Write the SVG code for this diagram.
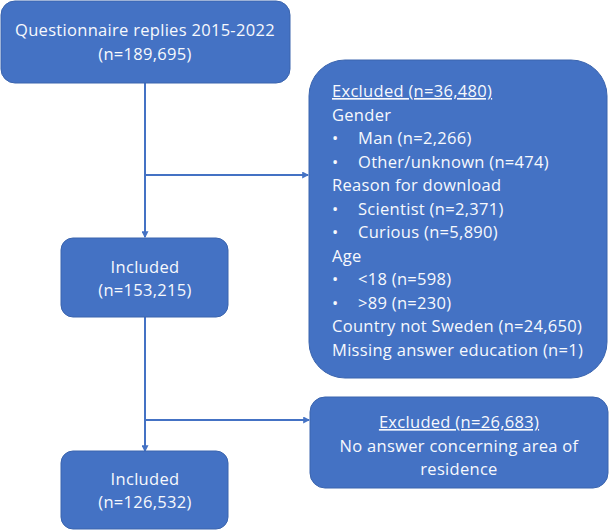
<svg xmlns="http://www.w3.org/2000/svg" width="610" height="531" viewBox="0 0 610 531">
<style>
.box{fill:#4472C4;stroke:#3A64AE;stroke-width:1}
.t{font-family:"Open Sans","Liberation Sans",sans-serif;font-size:16.5px;letter-spacing:0.3px;fill:#F7F9FD}
.c{text-anchor:middle}
.conn{stroke:#4472C4;stroke-width:2;fill:none}
</style>
<defs>
<marker id="ah" viewBox="0 0 6 6" refX="5" refY="3" markerWidth="3.5" markerHeight="3.5" orient="auto" markerUnits="strokeWidth">
<path d="M0,0 L6,3 L0,6 Z" fill="#4472C4"/>
</marker>
</defs>
<rect width="610" height="531" fill="#FFFFFF"/>
<g id="connectors">
<line class="conn" x1="145" y1="83" x2="145" y2="237" marker-end="url(#ah)"/>
<line class="conn" x1="145" y1="175" x2="308" y2="175" marker-end="url(#ah)"/>
<line class="conn" x1="145" y1="317" x2="145" y2="451" marker-end="url(#ah)"/>
<line class="conn" x1="145" y1="420" x2="309" y2="420" marker-end="url(#ah)"/>
</g>
<g id="n1">
<rect class="box" x="1" y="1" width="289" height="82" rx="14"/>
<text class="t c" x="145" y="36">Questionnaire replies 2015-2022</text>
<text class="t c" x="145" y="60">(n=189,695)</text>
</g>
<g id="n2">
<rect class="box" x="61" y="238" width="167" height="79" rx="12"/>
<text class="t c" x="145" y="273">Included</text>
<text class="t c" x="145" y="296">(n=153,215)</text>
</g>
<g id="n3">
<rect class="box" x="309" y="60" width="298" height="318" rx="36"/>
<text class="t" x="332" y="97" text-decoration="underline">Excluded (n=36,480)</text>
<text class="t" x="332" y="120.5">Gender</text>
<text class="t" x="332" y="144">•</text><text class="t" x="358" y="144">Man (n=2,266)</text>
<text class="t" x="332" y="167.5">•</text><text class="t" x="358" y="167.5">Other/unknown (n=474)</text>
<text class="t" x="332" y="191">Reason for download</text>
<text class="t" x="332" y="214.5">•</text><text class="t" x="358" y="214.5">Scientist (n=2,371)</text>
<text class="t" x="332" y="238">•</text><text class="t" x="358" y="238">Curious (n=5,890)</text>
<text class="t" x="332" y="261.5">Age</text>
<text class="t" x="332" y="285">•</text><text class="t" x="358" y="285">&lt;18 (n=598)</text>
<text class="t" x="332" y="308.5">•</text><text class="t" x="358" y="308.5">&gt;89 (n=230)</text>
<text class="t" x="332" y="332">Country not Sweden (n=24,650)</text>
<text class="t" x="332" y="355.5">Missing answer education (n=1)</text>
</g>
<g id="n4">
<rect class="box" x="310" y="397" width="298" height="91" rx="15"/>
<text class="t c" x="459" y="428" text-decoration="underline">Excluded (n=26,683)</text>
<text class="t c" x="459" y="451.5">No answer concerning area of</text>
<text class="t c" x="459" y="475">residence</text>
</g>
<g id="n5">
<rect class="box" x="61" y="451" width="167" height="78" rx="12"/>
<text class="t c" x="145" y="485">Included</text>
<text class="t c" x="145" y="508">(n=126,532)</text>
</g>
</svg>
